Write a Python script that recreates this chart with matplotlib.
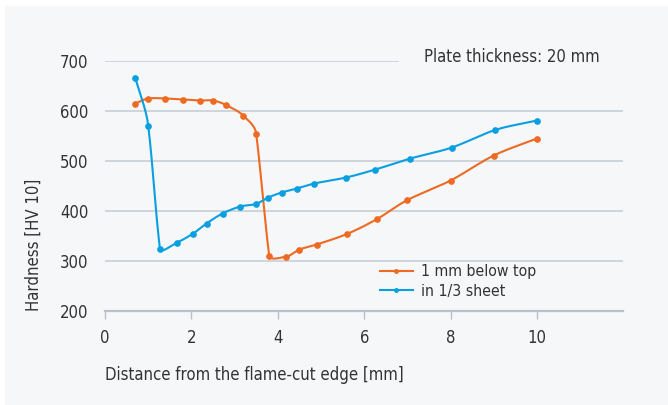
import matplotlib
matplotlib.use('Agg')
import matplotlib.pyplot as plt
from matplotlib.patches import Rectangle
import numpy as np

# data
dist_top = [0.7, 1.0, 1.4, 1.8, 2.2, 2.5, 2.8, 3.2, 3.5, 3.8, 4.2, 4.5, 4.9, 5.6, 6.3, 7.0, 8.0, 9.0, 10.0]
hv_top = [615, 625, 625, 623, 621, 621, 612, 591, 555, 311, 309, 323, 333, 354, 384, 422, 461, 511, 545]

dist_third = [0.7, 1.0, 1.27, 1.67, 2.04, 2.35, 2.72, 3.13, 3.49, 3.78, 4.09, 4.44, 4.84, 5.58, 6.26, 7.07, 8.03, 9.03, 10.0]
hv_third = [667, 571, 325, 337, 355, 375, 395, 409, 414, 427, 437, 445, 455, 467, 483, 505, 527, 562, 581]

series_names = ['1 mm below top', 'in 1/3 sheet']
series_colors = ['#ee6a22', '#0a9fe0']
x_ticks = [0, 2, 4, 6, 8, 10]
y_ticks = [200, 300, 400, 500, 600, 700]

BG = '#f5f7f9'
GRID = '#c9ced5'
TXT = '#333333'
FS = 12

plt.rcParams['font.family'] = ['DejaVu Sans']
plt.rcParams['font.stretch'] = 'condensed'


def smooth(xs, ys, sx=43.2, sy=0.5, n=40, k=0.33):
    # Bezier through the points, in pixel space; the longer neighbouring
    # segment sets most of the tangent, tangent length follows segment length
    p = np.column_stack([np.array(xs) * sx, np.array(ys) * sy])
    m = len(p)
    d = np.zeros_like(p)
    for i in range(m):
        v = np.zeros(2)
        if i > 0:
            a = p[i] - p[i - 1]
            v += a * np.linalg.norm(a)
        if i < m - 1:
            b = p[i + 1] - p[i]
            v += b * np.linalg.norm(b)
        d[i] = v / np.linalg.norm(v)
    out = [p[0]]
    t = np.linspace(0, 1, n)[1:, None]
    for i in range(m - 1):
        p1, p2 = p[i], p[i + 1]
        L = np.linalg.norm(p2 - p1)
        c1 = p1 + d[i] * L * k
        c2 = p2 - d[i + 1] * L * k
        seg = (1 - t) ** 3 * p1 + 3 * (1 - t) ** 2 * t * c1 + 3 * (1 - t) * t ** 2 * c2 + t ** 3 * p2
        out.extend(seg)
    out = np.array(out)
    return out[:, 0] / sx, out[:, 1] / sy


fig = plt.figure(figsize=(6.68, 4.05), dpi=100)
fig.patch.set_facecolor('white')
fig.patches.append(Rectangle((5 / 668, 0), 1, 1 - 6 / 405, transform=fig.transFigure,
                             facecolor=BG, edgecolor='none', zorder=-10))

ax = fig.add_axes([105 / 668, 1 - 311 / 405, (623 - 105) / 668, 250 / 405])
ax.set_facecolor('none')
ax.set_xlim(0, 518 / 43.2)
ax.set_ylim(200, 700)

for y in y_ticks[1:-1]:
    ax.axhline(y, color=GRID, lw=1.2, zorder=1)
# top gridline stops where the note sits
ax.axhline(700, xmax=(398 - 105) / 518, color=GRID, lw=1.2, zorder=1)

for s in ['top', 'right', 'left']:
    ax.spines[s].set_visible(False)
ax.spines['bottom'].set_color('#b8c0ca')
ax.spines['bottom'].set_linewidth(1.6)

ax.set_xticks(x_ticks)
ax.set_yticks(y_ticks)
ax.tick_params(axis='x', colors='#b8c0ca', length=6, width=1, labelcolor=TXT, labelsize=FS, pad=7)
ax.tick_params(axis='y', length=0, labelcolor=TXT, labelsize=FS, pad=12)

for xs, ys, col, name in [(dist_top, hv_top, series_colors[0], series_names[0]),
                          (dist_third, hv_third, series_colors[1], series_names[1])]:
    sxs, sys_ = smooth(xs, ys)
    ax.plot(sxs, sys_, color=col, lw=1.5, zorder=3)
    ax.plot(xs, ys, 'o', color=col, ms=3.8, zorder=4)
    ax.plot([], [], '-o', color=col, lw=1.5, ms=2.5, label=name)

leg = ax.legend(loc='center left', bbox_to_anchor=((380 - 105) / 518, 0.118), frameon=False,
                fontsize=11.3, handlelength=2.1, handletextpad=0.5, labelspacing=0.3,
                borderaxespad=0, borderpad=0)
for t in leg.get_texts():
    t.set_color(TXT)

ax.text((424 - 105) / 518, 1.016, 'Plate thickness: 20 mm', transform=ax.transAxes, fontsize=FS,
        color=TXT, ha='left', va='center', zorder=5)

ax.set_xlabel('Distance from the flame-cut edge [mm]', fontsize=FS, color=TXT, labelpad=14, loc='left')
ax.set_ylabel('Hardness [HV 10]', fontsize=FS, color=TXT, labelpad=12, loc='bottom')

fig.savefig('out.png', dpi=100, facecolor=fig.get_facecolor())
